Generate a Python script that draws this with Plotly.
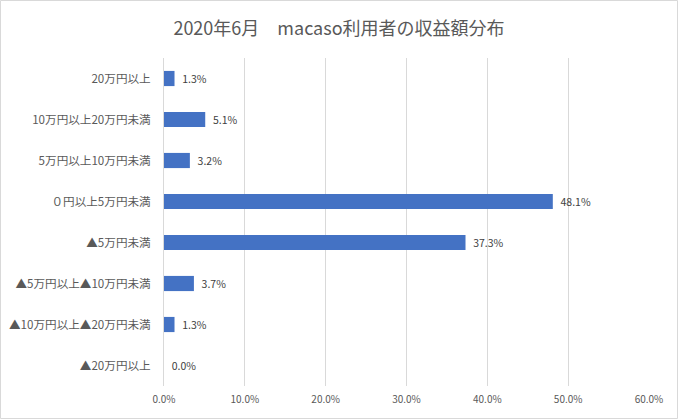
import plotly.graph_objects as go

categories = ["20万円以上", "10万円以上20万円未満", "5万円以上10万円未満", "０円以上5万円未満",
              "▲5万円未満", "▲5万円以上▲10万円未満", "▲10万円以上▲20万円未満", "▲20万円以上"]
shares = [0.013, 0.051, 0.032, 0.481, 0.373, 0.037, 0.013, 0.000]
x_ticks = [0, 0.1, 0.2, 0.3, 0.4, 0.5, 0.6]

W, H = 678, 419
L, R, T, B = 164, 29, 58, 33
pw, ph = W - L - R, H - T - B

FONT = "Noto Sans CJK JP"

fig = go.Figure(go.Bar(
    x=shares, y=categories, orientation="h",
    marker=dict(color="#4472C4", line=dict(width=0)),
    texttemplate="\u00a0\u00a0%{x:.1%}", textposition="outside",
    textfont=dict(family=FONT, size=10.5, color="#404040"),
    cliponaxis=False,
))

fig.update_layout(
    width=W, height=H,
    margin=dict(l=L, r=R, t=T, b=B, autoexpand=False),
    paper_bgcolor="white", plot_bgcolor="white",
    bargap=0.63,
    showlegend=False,
    title=dict(text="2020年6月　macaso利用者の収益額分布", x=0.5, xref="container",
               xanchor="center", y=1 - 29 / H, yanchor="middle",
               font=dict(family=FONT, size=18, color="#595959")),
    font=dict(family=FONT, color="#595959"),
    xaxis=dict(range=[0, 0.6], tickvals=x_ticks, tickformat=".1%", automargin=False,
               showgrid=True, gridcolor="#D9D9D9", gridwidth=1,
               zeroline=False, showline=False, ticks="",
               tickfont=dict(family=FONT, size=10, color="#595959"),
               ticklabelstandoff=6),
    yaxis=dict(autorange="reversed", showline=True, linecolor="#D9D9D9", linewidth=1,
               ticks="", ticklabelstandoff=10, automargin=False,
               tickfont=dict(family=FONT, size=11.6, color="#595959")),
    shapes=[dict(type="rect", xref="paper", yref="paper",
                 x0=(0.5 - L) / pw, x1=(W - 0.5 - L) / pw,
                 y0=(H - B - (H - 0.5)) / ph, y1=(H - B - 0.5) / ph,
                 line=dict(color="#D9D9D9", width=1), layer="below")],
)

fig.write_html("out.html")
